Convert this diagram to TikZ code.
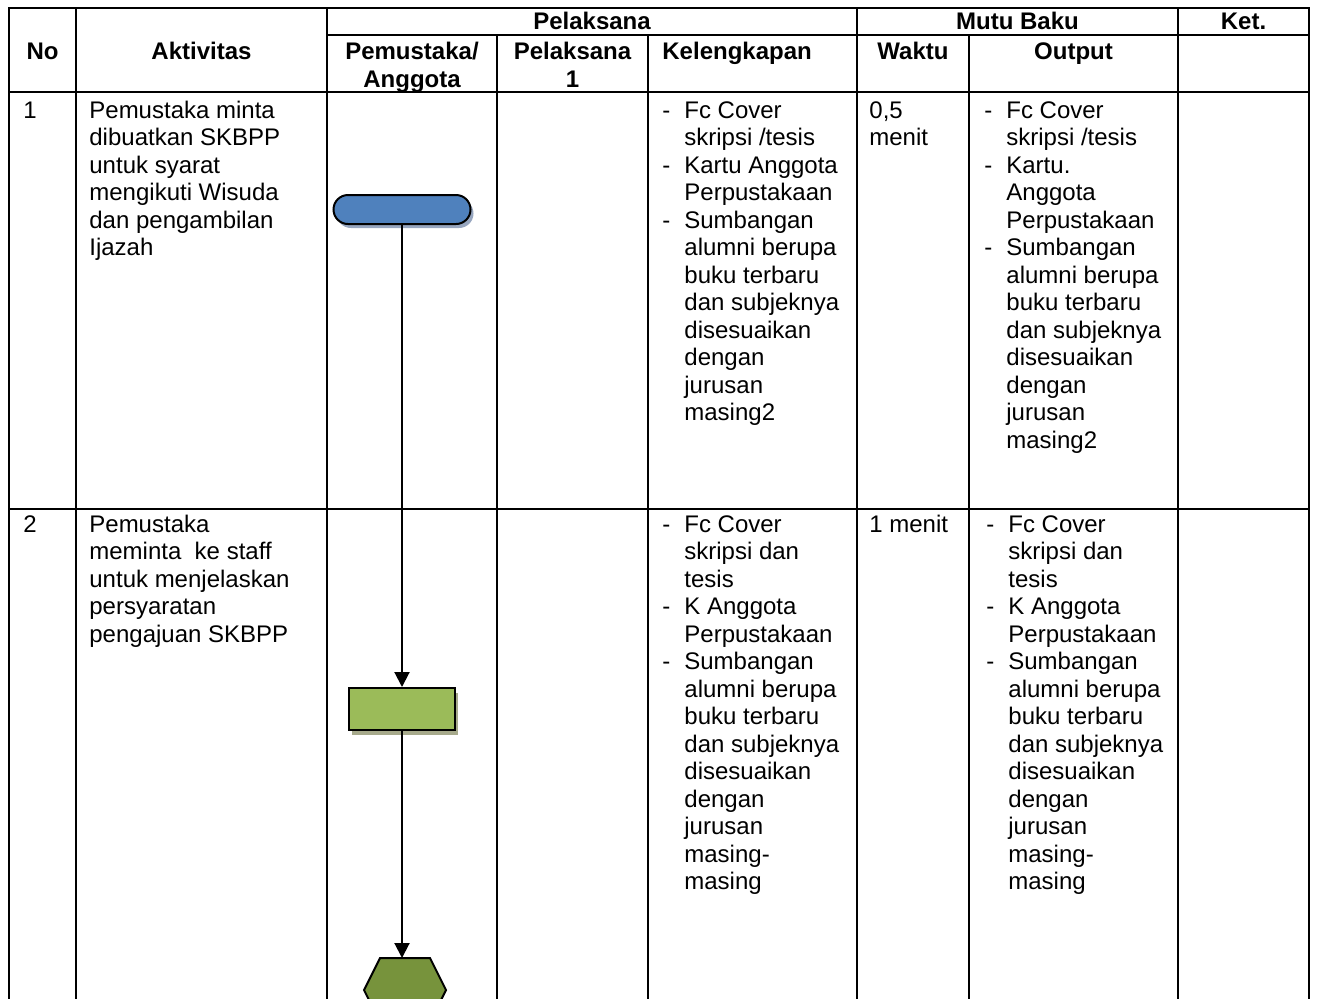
\documentclass[tikz,border=0pt]{standalone}
\usepackage{fontspec}
\setmainfont{Liberation Sans}
\usetikzlibrary{arrows.meta,shapes.misc,shadows}
\definecolor{biru}{HTML}{4F81BD}
\definecolor{birubayang}{HTML}{97A6BF}
\definecolor{hijau}{HTML}{9BBB59}
\definecolor{hijaubayang}{HTML}{A7AA8C}
\definecolor{hijautua}{HTML}{77933C}
\newcommand{\isifont}{\fontsize{12}{13.75}\selectfont}
\newcommand{\butir}{\makebox[11pt][l]{-}}
\newcommand{\lanjut}{\hspace*{11pt}}
\begin{document}
\begin{tikzpicture}[x=0.5pt,y=-0.5pt,
    garis/.style={line width=1pt,line cap=rect},
    isi/.style={anchor=north west,inner sep=0pt,align=left,font=\isifont},
    judul/.style={anchor=north,inner sep=0pt,align=center,font=\isifont\bfseries},
    alur/.style={line width=1pt,-{Triangle[width=7.5pt,length=7.5pt]}},
    terminal/.style={rounded rectangle,draw,line width=1pt,fill=biru,
      minimum width=68.5pt,minimum height=14.5pt,inner sep=0pt,
      drop shadow={shadow xshift=1.5pt,shadow yshift=-2pt,fill=birubayang,opacity=1}},
    proses/.style={rectangle,draw,line width=1pt,fill=hijau,
      minimum width=53pt,minimum height=21pt,inner sep=0pt,
      drop shadow={shadow xshift=1.5pt,shadow yshift=-2.5pt,fill=hijaubayang,opacity=1}}]
      \useasboundingbox (0,0) rectangle (1317,998);
      \clip (0,0) rectangle (1317,998);

      % table lines
      \foreach \y in {8,92,509} {
        \draw[garis] (9,\y) -- (1309,\y);
      }
      \draw[garis] (327,35) -- (1309,35);
      \foreach \x in {9,76,327,857,1178,1309} {
        \draw[garis] (\x,8) -- (\x,998);
      }
      \foreach \x in {497,648,969} {
        \draw[garis] (\x,35) -- (\x,998);
      }

      % header
      \node[judul] (hPel) at (592,10.25) {\strut Pelaksana};
      \node[judul] (hMutu) at (1017.5,10.25) {\strut Mutu Baku};
      \node[judul] (hKet) at (1243.5,10.25) {\strut Ket.};
      \node[judul] (hNo) at (42.5,40.25) {\strut No};
      \node[judul] (hAkt) at (201.5,40.25) {\strut Aktivitas};
      \node[judul] (hPem) at (412,40.25) {\strut Pemustaka/\\Anggota};
      \node[judul] (hPel1) at (572.5,40.25) {\strut Pelaksana\\1};
      \node[judul,anchor=north west] (hKel) at (662,40.25) {\strut Kelengkapan};
      \node[judul] (hWkt) at (913,40.25) {\strut Waktu};
      \node[judul] (hOut) at (1073.5,40.25) {\strut Output};

      % row 1
      \node[isi] (no1) at (23,98.75) {\strut 1};
      \node[isi] (akt1) at (89,98.75) {\strut Pemustaka minta\\dibuatkan SKBPP\\untuk syarat\\mengikuti Wisuda\\dan pengambilan\\Ijazah};
      \node[isi] (kel1) at (662,98.75) {\strut\butir Fc Cover\\\lanjut skripsi /tesis\\\butir Kartu Anggota\\\lanjut Perpustakaan\\\butir Sumbangan\\\lanjut alumni berupa\\\lanjut buku terbaru\\\lanjut dan subjeknya\\\lanjut disesuaikan\\\lanjut dengan\\\lanjut jurusan\\\lanjut masing2};
      \node[isi] (wkt1) at (869,98.75) {\strut 0,5\\menit};
      \node[isi] (out1) at (984,98.75) {\strut\butir Fc Cover\\\lanjut skripsi /tesis\\\butir Kartu.\\\lanjut Anggota\\\lanjut Perpustakaan\\\butir Sumbangan\\\lanjut alumni berupa\\\lanjut buku terbaru\\\lanjut dan subjeknya\\\lanjut disesuaikan\\\lanjut dengan\\\lanjut jurusan\\\lanjut masing2};

      % row 2
      \node[isi] (no2) at (23,512.75) {\strut 2};
      \node[isi] (akt2) at (89,512.75) {\strut Pemustaka\\meminta\ \ ke staff\\untuk menjelaskan\\persyaratan\\pengajuan SKBPP};
      \node[isi] (kel2) at (662,512.75) {\strut\butir Fc Cover\\\lanjut skripsi dan\\\lanjut tesis\\\butir K Anggota\\\lanjut Perpustakaan\\\butir Sumbangan\\\lanjut alumni berupa\\\lanjut buku terbaru\\\lanjut dan subjeknya\\\lanjut disesuaikan\\\lanjut dengan\\\lanjut jurusan\\\lanjut masing-\\\lanjut masing};
      \node[isi] (wkt2) at (869,512.75) {\strut 1 menit};
      \node[isi] (out2) at (986,512.75) {\strut\butir Fc Cover\\\lanjut skripsi dan\\\lanjut tesis\\\butir K Anggota\\\lanjut Perpustakaan\\\butir Sumbangan\\\lanjut alumni berupa\\\lanjut buku terbaru\\\lanjut dan subjeknya\\\lanjut disesuaikan\\\lanjut dengan\\\lanjut jurusan\\\lanjut masing-\\\lanjut masing};

      % flow
      \node[terminal] (mulai) at (402,209.5) {};
      \node[proses] (proses1) at (402,709) {};
      \draw[line width=1pt,fill=hijautua] (380,958) -- (430,958) -- (446,990) -- (430,1022) -- (380,1022) -- (364,990) -- cycle;
      \coordinate (konektor) at (405,958);
      \draw[alur] (mulai) -- (proses1);
      \draw[alur] (proses1) -- (proses1.south |- konektor);
    \end{tikzpicture}
\end{document}
